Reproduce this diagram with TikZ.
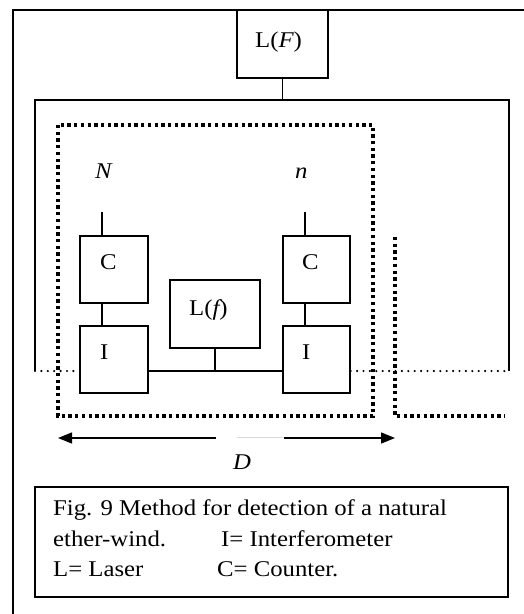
\documentclass[tikz,border=0pt]{standalone}
\usepackage{fontspec}
\setmainfont[FakeStretch=1.1]{Liberation Serif}
\usetikzlibrary{arrows.meta}
\begin{document}
\begin{tikzpicture}[x=1pt,y=-1pt,
  font=\fontsize{22.5}{30}\selectfont,
  line/.style={line width=1.4pt},
  box/.style={draw, line width=1.4pt, inner sep=0pt, minimum width=#1},
  box/.default=68pt,
  lbl/.style={anchor=base west, inner sep=0pt},
  thickdot/.style={line width=3.3pt, dash pattern=on 3.3pt off 3.4pt},
  finedot/.style={line width=2.4pt, line cap=round, dash pattern=on 0pt off 6.4pt},
  dimarrow/.style={line width=1.4pt, -{Triangle[length=14pt,width=11pt]}}]
\useasboundingbox (0,0) rectangle (524,614);

% outer frame
\draw[line width=1.6pt] (13,614) -- (13,10) -- (524,10);

% boxes
\node[box=91pt, minimum height=68pt] (LF) at (282.5,44) {};
\node[box, minimum height=67pt] (Cl) at (114,269.5) {};
\node[box, minimum height=67pt] (Il) at (114,359.5) {};
\node[box=67pt, minimum height=67pt] (Cr) at (316.5,269.5) {};
\node[box=67pt, minimum height=67pt] (Ir) at (316.5,359.5) {};
\node[box=90pt, minimum height=68pt] (Lf) at (215,314) {};

% labels
\node[lbl] (tLF) at (255,47) {L({\itshape F})};
\node[lbl] (tN) at (95,178) {\textit{N}};
\node[lbl] (tn) at (295,178) {\textit{n}};
\node[lbl] (tCl) at (100,269) {C};
\node[lbl] (tIl) at (100,359) {I};
\node[lbl] (tCr) at (302,269) {C};
\node[lbl] (tIr) at (302,359) {I};
\node[lbl] (tLf) at (189,315) {L({\itshape f})};
\node[lbl] (tD) at (233,469) {\textit{D}};

% second frame
\coordinate (ftop) at (282.5,100);
\draw[line] (35,371) -- (35,100) -- (509,100) -- (509,371);
\draw[line] (LF.south) -- (ftop);

% counters / interferometers connections
\coordinate (tickL) at (102,212);
\coordinate (tickR) at (305,212);
\draw[line] (tickL) -- (tickL |- Cl.north);
\draw[line] (tickL |- Cl.south) -- (tickL |- Il.north);
\draw[line] (tickR) -- (tickR |- Cr.north);
\draw[line] (tickR |- Cr.south) -- (tickR |- Ir.north);

\coordinate (bus) at (215,371);
\draw[line] (Il.east |- bus) -- (Ir.west |- bus);
\draw[line] (Lf.south) -- (bus);

% fine dotted beam
\coordinate (dl) at (35,371);
\coordinate (dr) at (509,371);
\draw[finedot] (dl) -- (75,371);
\draw[finedot] (Ir.east |- dr) -- (dr);

% thick dotted enclosures
\draw[thickdot] (58,125) rectangle (373,416);
\draw[thickdot] (395,237) -- (395,416) -- (505,416);

% distance arrow
\coordinate (aL) at (58,438);
\coordinate (aR) at (395,438);
\draw[dimarrow] (216,438) -- (aL);
\draw[dimarrow] (284,438) -- (aR);
\draw[line width=0.8pt, black!15] (237,437) -- (283,437);

% caption
\node[draw, line width=1.4pt, inner sep=0pt, minimum width=473pt, minimum height=110pt] (cap) at (271.5,542) {};
\node[lbl] (c1) at (53,515) {Fig. 9 Method for detection of a natural};
\node[lbl] (c2) at (53,546) {ether-wind.};
\node[lbl] (c3) at (221,546) {I= Interferometer};
\node[lbl] (c4) at (53,576) {L= Laser};
\node[lbl] (c5) at (217,576) {C= Counter.};
\end{tikzpicture}
\end{document}
